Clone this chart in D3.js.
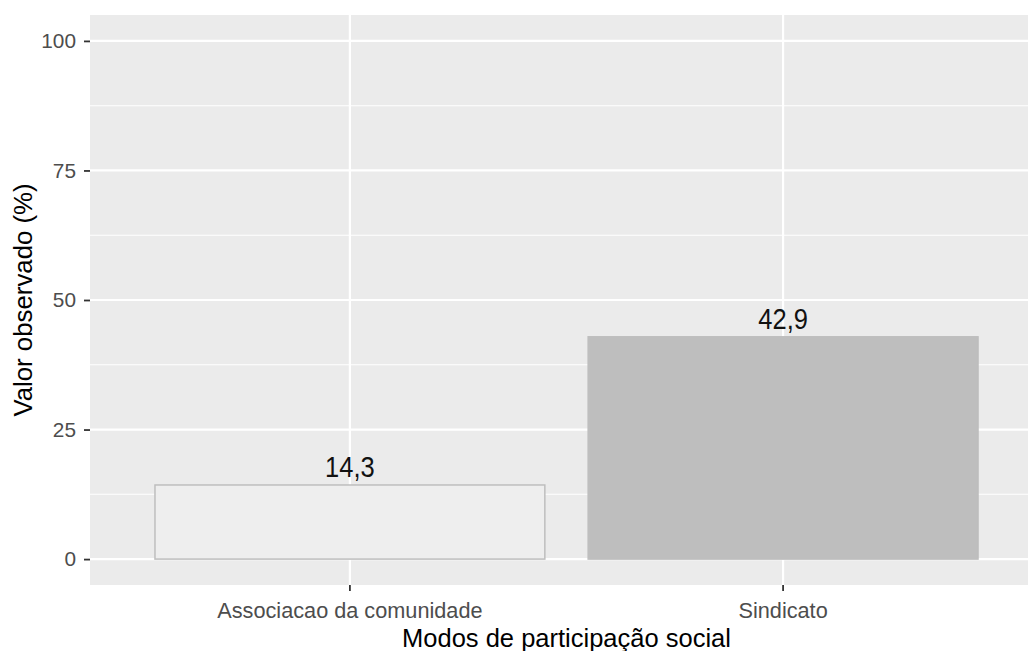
<!DOCTYPE html>
<html>
<head>
<meta charset="utf-8">
<script src="https://cdn.jsdelivr.net/npm/d3@7"></script>
<style>
  body { margin: 0; background: #fff; }
  svg { display: block; }
  text { font-family: "Liberation Sans", Arial, sans-serif; }
</style>
</head>
<body>
<svg id="chart" width="1028" height="651"></svg>
<script>
const categories = ["Associacao da comunidade", "Sindicato"];
const values = [14.3, 42.9];
const valueLabels = ["14,3", "42,9"];
const yTicks = [0, 25, 50, 75, 100];
const yMinorTicks = [12.5, 37.5, 62.5, 87.5];
const fills = ["#EEEEEE", "#BEBEBE"];
const strokes = ["#BEBEBE", "#BEBEBE"];

const svg = d3.select("#chart");
const panel = { left: 90, top: 15, right: 1043, bottom: 585 };

const x = d3.scaleBand().domain(categories)
  .range([panel.left, panel.right])
  .paddingInner(0.1).paddingOuter(0.15);
const y = d3.scaleLinear().domain([-5, 105]).range([panel.bottom, panel.top]);

// panel background
svg.append("rect")
  .attr("x", panel.left).attr("y", panel.top)
  .attr("width", panel.right - panel.left).attr("height", panel.bottom - panel.top)
  .attr("fill", "#EBEBEB");

// minor grid
svg.selectAll("line.minor").data(yMinorTicks).enter().append("line")
  .attr("x1", panel.left).attr("x2", panel.right)
  .attr("y1", d => y(d)).attr("y2", d => y(d))
  .attr("stroke", "#fff").attr("stroke-width", 1.1);

// major grid
svg.selectAll("line.majory").data(yTicks).enter().append("line")
  .attr("x1", panel.left).attr("x2", panel.right)
  .attr("y1", d => y(d)).attr("y2", d => y(d))
  .attr("stroke", "#fff").attr("stroke-width", 2.2);
svg.selectAll("line.majorx").data(categories).enter().append("line")
  .attr("x1", d => x(d) + x.bandwidth() / 2).attr("x2", d => x(d) + x.bandwidth() / 2)
  .attr("y1", panel.top).attr("y2", panel.bottom)
  .attr("stroke", "#fff").attr("stroke-width", 2.2);

// bars
svg.selectAll("rect.bar").data(categories).enter().append("rect")
  .attr("x", d => x(d))
  .attr("y", (d, i) => y(values[i]))
  .attr("width", x.bandwidth())
  .attr("height", (d, i) => y(0) - y(values[i]))
  .attr("fill", (d, i) => fills[i])
  .attr("stroke", (d, i) => strokes[i])
  .attr("stroke-width", 1.5);

// value labels (glyphs slightly taller in the reference rendering)
svg.selectAll("text.vlabel").data(categories).enter().append("text")
  .attr("transform", (d, i) => `translate(${x(d) + x.bandwidth() / 2},${y(values[i]) - 8}) scale(1,1.15)`)
  .attr("text-anchor", "middle")
  .attr("font-size", "25.5px")
  .attr("fill", "#111")
  .text((d, i) => valueLabels[i]);

// y axis
const yAxis = d3.axisLeft(y).tickValues(yTicks).tickSize(6).tickPadding(8);
const gy = svg.append("g").attr("transform", `translate(${panel.left},0)`).call(yAxis);
gy.select(".domain").remove();
gy.selectAll(".tick line").attr("stroke", "#333333").attr("stroke-width", 1.8);
gy.selectAll(".tick text").attr("font-size", "20.8px").attr("fill", "#4D4D4D")
  .attr("font-family", "Liberation Sans, Arial, sans-serif");

// x axis
const xAxis = d3.axisBottom(x).tickSize(6).tickPadding(12);
const gx = svg.append("g").attr("transform", `translate(0,${panel.bottom})`).call(xAxis);
gx.select(".domain").remove();
gx.selectAll(".tick line").attr("stroke", "#333333").attr("stroke-width", 1.8);
gx.selectAll(".tick text").attr("font-size", "21.7px").attr("fill", "#4D4D4D")
  .attr("font-family", "Liberation Sans, Arial, sans-serif");

// axis titles
svg.append("text")
  .attr("x", (panel.left + panel.right) / 2).attr("y", 647)
  .attr("text-anchor", "middle").attr("font-size", "25.5px").attr("fill", "#000")
  .text("Modos de participação social");

svg.append("text")
  .attr("transform", `translate(32,${(panel.top + panel.bottom) / 2}) rotate(-90)`)
  .attr("text-anchor", "middle").attr("font-size", "25.8px").attr("fill", "#000")
  .text("Valor observado (%)");
</script>
</body>
</html>
